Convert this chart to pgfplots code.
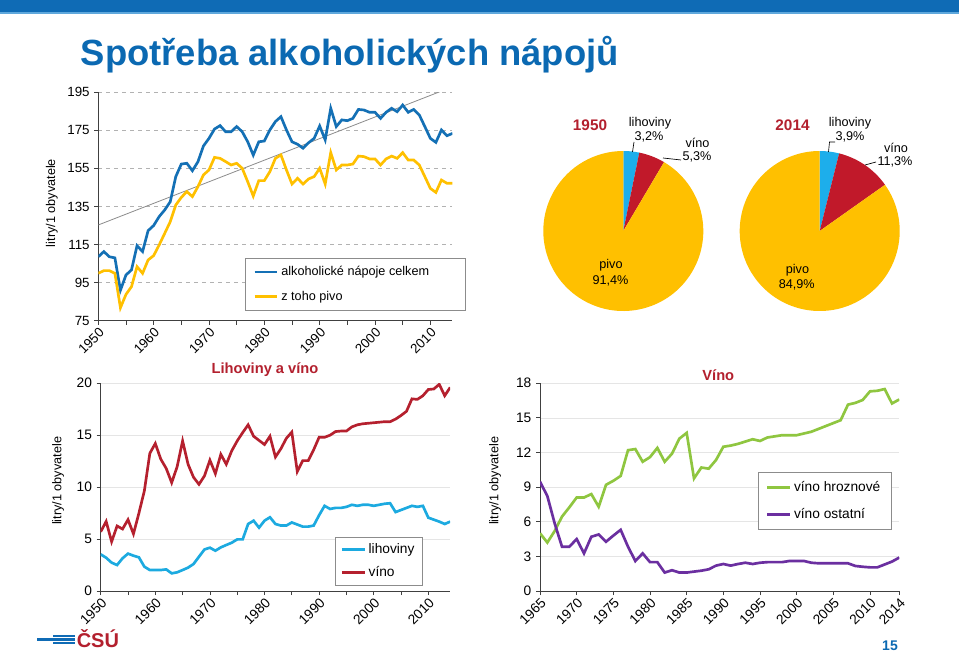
\documentclass[border=0pt]{standalone}
\usepackage{fontspec}
\setmainfont{Liberation Sans}
\usepackage{pgfplots}
\usepackage{pgfplotstable}
\pgfplotsset{compat=1.18}

\definecolor{barblue}{HTML}{0F6BB5}
\definecolor{barlight}{HTML}{5FA8DC}
\definecolor{titleblue}{HTML}{0B69B2}
\definecolor{darkred}{HTML}{B3202E}
\definecolor{celkem}{HTML}{1470B5}
\definecolor{pivo}{HTML}{FFC000}
\definecolor{lihov}{HTML}{1CAAE0}
\definecolor{vino}{HTML}{B5202E}
\definecolor{hrozn}{HTML}{8FC640}
\definecolor{ostat}{HTML}{6B2FA0}
\definecolor{pieblue}{HTML}{1DAEEB}
\definecolor{piered}{HTML}{C1192A}

% rok, alkoholicke napoje celkem, z toho pivo
\pgfplotstableread{
rok celkem pivo
1950 108.6 99.9
1951 111.3 101.3
1952 108.6 101.3
1953 108.0 99.9
1954 91.0 81.8
1955 99.0 88.8
1956 101.7 92.9
1957 114.4 103.4
1958 111.3 99.9
1959 122.3 106.9
1960 125.0 109.2
1961 129.7 114.8
1962 133.2 120.9
1963 137.5 127.0
1964 150.7 135.8
1965 157.3 139.8
1966 157.7 142.8
1967 153.8 140.2
1968 158.5 145.4
1969 166.8 151.6
1970 170.8 154.2
1971 175.7 160.8
1972 177.5 160.3
1973 174.3 158.6
1974 174.3 156.8
1975 177.0 157.7
1976 174.3 155.1
1977 169.0 148.0
1978 162.0 140.5
1979 169.0 148.6
1980 169.4 148.6
1981 175.2 153.3
1982 179.6 160.3
1983 182.2 162.1
1984 175.2 154.2
1985 169.0 146.8
1986 167.7 149.8
1987 165.6 146.8
1988 168.5 149.5
1989 170.8 150.7
1990 177.3 155.1
1991 170.0 146.8
1992 186.6 163.3
1993 177.0 154.2
1994 180.5 156.8
1995 180.1 156.8
1996 181.3 157.3
1997 186.0 161.5
1998 185.7 161.2
1999 184.5 160.0
2000 184.5 160.0
2001 181.3 156.8
2002 184.5 160.0
2003 186.6 161.5
2004 184.8 160.3
2005 188.3 163.3
2006 184.5 159.4
2007 186.0 159.4
2008 183.1 156.8
2009 177.0 150.7
2010 170.8 144.5
2011 168.7 142.4
2012 175.2 148.9
2013 172.2 147.2
2014 173.4 147.2
}\celkemtab

% rok, lihoviny, vino
\pgfplotstableread{
rok lih vino
1950 3.53 5.7
1951 3.2 6.7
1952 2.73 4.75
1953 2.5 6.26
1954 3.15 5.97
1955 3.6 6.87
1956 3.4 5.5
1957 3.24 7.5
1958 2.34 9.66
1959 2.02 13.26
1960 2.02 14.2
1961 2.02 12.7
1962 2.08 11.8
1963 1.7 10.43
1964 1.8 11.97
1965 2.02 14.45
1966 2.25 12.2
1967 2.6 10.95
1968 3.3 10.27
1969 4.0 11.08
1970 4.17 12.6
1971 3.88 11.3
1972 4.2 13.16
1973 4.43 12.2
1974 4.65 13.5
1975 4.97 14.45
1976 4.97 15.25
1977 6.45 16.0
1978 6.77 14.9
1979 6.1 14.5
1980 6.77 14.1
1981 7.1 14.9
1982 6.45 12.9
1983 6.3 13.7
1984 6.3 14.7
1985 6.6 15.3
1986 6.4 11.5
1987 6.2 12.55
1988 6.2 12.55
1989 6.3 13.6
1990 7.3 14.8
1991 8.2 14.8
1992 7.9 15.0
1993 8.0 15.35
1994 8.0 15.4
1995 8.1 15.4
1996 8.3 15.8
1997 8.2 16.0
1998 8.3 16.1
1999 8.3 16.15
2000 8.2 16.2
2001 8.3 16.25
2002 8.4 16.3
2003 8.45 16.3
2004 7.6 16.55
2005 7.8 16.9
2006 8.0 17.3
2007 8.2 18.5
2008 8.1 18.45
2009 8.2 18.8
2010 7.06 19.4
2011 6.87 19.45
2012 6.68 19.9
2013 6.45 18.8
2014 6.68 19.6
}\lihtab

% rok, vino hroznove, vino ostatni
\pgfplotstableread{
rok hrozn ostat
1965 5.0 9.47
1966 4.2 8.23
1967 5.2 5.86
1968 6.45 3.84
1969 7.25 3.84
1970 8.1 4.5
1971 8.1 3.26
1972 8.4 4.7
1973 7.3 4.9
1974 9.2 4.27
1975 9.55 4.8
1976 9.97 5.3
1977 12.2 3.84
1978 12.3 2.6
1979 11.2 3.26
1980 11.6 2.5
1981 12.4 2.5
1982 11.2 1.6
1983 11.9 1.8
1984 13.2 1.6
1985 13.7 1.6
1986 9.76 1.68
1987 10.7 1.76
1988 10.6 1.88
1989 11.35 2.2
1990 12.5 2.34
1991 12.6 2.2
1992 12.75 2.34
1993 12.95 2.45
1994 13.15 2.34
1995 13.0 2.45
1996 13.3 2.5
1997 13.4 2.5
1998 13.5 2.5
1999 13.5 2.6
2000 13.5 2.6
2001 13.65 2.6
2002 13.8 2.45
2003 14.05 2.4
2004 14.3 2.4
2005 14.55 2.4
2006 14.8 2.4
2007 16.15 2.4
2008 16.3 2.17
2009 16.55 2.1
2010 17.3 2.05
2011 17.35 2.05
2012 17.5 2.3
2013 16.25 2.55
2014 16.6 2.9
}\vinotab

\newcommand\fs{\fontsize{9.5}{11}\selectfont}
\newcommand\fb{\fontsize{10.3}{12}\selectfont}
\newcommand\pieslice[3]{\fill[#3] (axis cs:0,0) -- ++({90-3.6*(#1)}:60pt)
  arc[start angle={90-3.6*(#1)}, end angle={90-3.6*(#2)}, radius=60pt] -- cycle;}

\pgfplotsset{
  chart/.style={
    scale only axis, axis lines*=left,
    axis line style={black!75, line width=0.75pt},
    every tick/.style={black!75, line width=0.6pt},
    tick align=outside, major tick length=3pt, minor tick length=3pt,
    tick label style={font=\fb, text=black},
    /pgf/number format/assume math mode=true,
    /pgf/number format/1000 sep={},
    xticklabel style={rotate=45, anchor=north east, inner sep=1pt},
    ylabel={litry/1 obyvatele}, ylabel style={font=\fs},
    legend cell align=left,
    legend image code/.code={\draw[##1] (0pt,0pt) -- (17pt,0pt);},
  },
  pie/.style={hide axis, scale only axis, width=120pt, height=120pt,
    xmin=-1, xmax=1, ymin=-1, ymax=1, anchor=center},
}

\begin{document}
\begin{tikzpicture}
\begin{scope}[x=0.75pt, y=-0.75pt]
  \useasboundingbox (0,0) rectangle (959,652);
  \fill[white] (0,0) rectangle (959,652);
  \fill[barblue] (0,0) rectangle (959,12);
  \fill[barlight] (0,12) rectangle (959,14);
  \node[anchor=base west, inner sep=0, text=titleblue,
        font=\fontsize{27.3}{30}\selectfont\bfseries] at (80.5,66) {Spotřeba alkoholických nápojů};
  \coordinate (A) at (98.3,320.7);
  \coordinate (C) at (100.7,591);
  \coordinate (D) at (540,591);
  \coordinate (P1) at (623.3,231);
  \coordinate (P2) at (819.7,231);
  % nadpisy dolnich grafu
  \node[font=\fontsize{11}{13}\selectfont\bfseries, text=darkred] at (265,369.5) {Lihoviny a víno};
  \node[font=\fontsize{11}{13}\selectfont\bfseries, text=darkred] at (718.3,375) {Víno};
  % logo a cislo strany
  \fill[barblue] (37,638) rectangle (75,640.5);
  \fill[barblue] (53,634.5) rectangle (75,636.5);
  \fill[barblue] (53,642) rectangle (75,644);
  \node[anchor=base west, inner sep=0, text=darkred, font=\fontsize{15}{17}\selectfont\bfseries] at (76.5,647) {ČSÚ};
  \node[anchor=base, inner sep=0, text=titleblue, font=\fontsize{10.5}{12}\selectfont\bfseries] at (890,650) {15};
\end{scope}

% celkova spotreba
\begin{axis}[chart, at={(A)}, anchor=south west, width=265.65pt, height=171.3pt,
  xmin=1950, xmax=2014, ymin=75, ymax=195,
  tick label style={font=\fontsize{10}{12}\selectfont},
  xtick={1950,1960,...,2010}, minor xtick={1955,1965,...,2005},
  ytick={75,95,...,195},
  ymajorgrids, major grid style={dashed, black!30, line width=0.5pt},
  ylabel style={at={(axis description cs:-0.131,0.515)}, anchor=center},
  legend style={at={(axis description cs:0.4142,0.2745)}, anchor=north west,
    draw=black!45, line width=0.5pt, font=\fs, inner xsep=6pt, inner ysep=4pt,
    row sep=6pt},
]
\addplot[black!45, line width=0.6pt, forget plot] coordinates {(1950,125.3) (2014,197.9)};
\addplot[celkem, line width=2pt] table[x=rok, y=celkem] {\celkemtab};
\addlegendentry{\makebox[130pt][l]{alkoholické nápoje celkem}}
\addplot[pivo, line width=2pt] table[x=rok, y=pivo] {\celkemtab};
\addlegendentry{z toho pivo}
\end{axis}

% kolace
\begin{axis}[pie, at={(P1)}]
\pieslice{0}{3.2}{pieblue}
\pieslice{3.2}{8.5}{piered}
\pieslice{8.5}{100}{pivo}
\end{axis}
\begin{axis}[pie, at={(P2)}]
\pieslice{0}{3.9}{pieblue}
\pieslice{3.9}{15.2}{piered}
\pieslice{15.2}{100}{pivo}
\end{axis}
\begin{scope}[x=0.75pt, y=-0.75pt, line width=0.5pt]
  \draw (634,142) -- (632.5,152);
  \draw (681,160) -- (663,158);
  \draw (835,142) -- (829.5,142) -- (828.5,152);
  \draw (876,162) -- (865,165);
  \node[font=\fontsize{11.5}{13}\selectfont\bfseries, text=darkred] at (590,125) {1950};
  \node[font=\fs] at (650,123) {lihoviny};
  \node[font=\fs] at (649,137) {3,2\%};
  \node[font=\fs] at (697.5,143) {víno};
  \node[font=\fs] at (697,157) {5,3\%};
  \node[font=\fs] at (611,265) {pivo};
  \node[font=\fs] at (610.5,281) {91,4\%};
  \node[font=\fontsize{11.5}{13}\selectfont\bfseries, text=darkred] at (792.5,125) {2014};
  \node[font=\fs] at (850,123) {lihoviny};
  \node[font=\fs] at (850,137) {3,9\%};
  \node[font=\fs] at (896,147.5) {víno};
  \node[font=\fs] at (895,162) {11,3\%};
  \node[font=\fs] at (797.5,270) {pivo};
  \node[font=\fs] at (796.7,284.5) {84,9\%};
\end{scope}

% lihoviny a vino
\begin{axis}[chart, at={(C)}, anchor=south west, width=262.1pt, height=155.8pt,
  xmin=1950, xmax=2014, ymin=0, ymax=20,
  xtick={1950,1960,...,2010}, minor xtick={1955,1965,...,2005},
  ytick={0,5,...,20},
  ymajorgrids, major grid style={black!10, line width=0.5pt},
  ylabel style={at={(axis description cs:-0.122,0.53)}, anchor=center},
  legend style={at={(axis description cs:0.6704,0.2614)}, anchor=north west,
    draw=black!45, line width=0.5pt, font=\fb, inner xsep=4pt, inner ysep=3pt,
    row sep=4pt},
]
\addplot[lihov, line width=2pt] table[x=rok, y=lih] {\lihtab};
\addlegendentry{lihoviny}
\addplot[vino, line width=2pt] table[x=rok, y=vino] {\lihtab};
\addlegendentry{víno}
\end{axis}

% vino
\begin{axis}[chart, at={(D)}, anchor=south west, width=269.5pt, height=155.8pt,
  xmin=1965, xmax=2014, ymin=0, ymax=18,
  xtick={1965,1970,...,2010,2014},
  ytick={0,3,...,18},
  ymajorgrids, major grid style={black!10, line width=0.5pt},
  ylabel style={at={(axis description cs:-0.125,0.53)}, anchor=center},
  legend style={at={(axis description cs:0.6059,0.5744)}, anchor=north west,
    draw=black!45, line width=0.5pt, font=\fb, inner xsep=6pt, inner ysep=5pt,
    row sep=7pt},
]
\addplot[hrozn, line width=2pt] table[x=rok, y=hrozn] {\vinotab};
\addlegendentry{víno hroznové}
\addplot[ostat, line width=2pt] table[x=rok, y=ostat] {\vinotab};
\addlegendentry{víno ostatní}
\end{axis}
\end{tikzpicture}
\end{document}
